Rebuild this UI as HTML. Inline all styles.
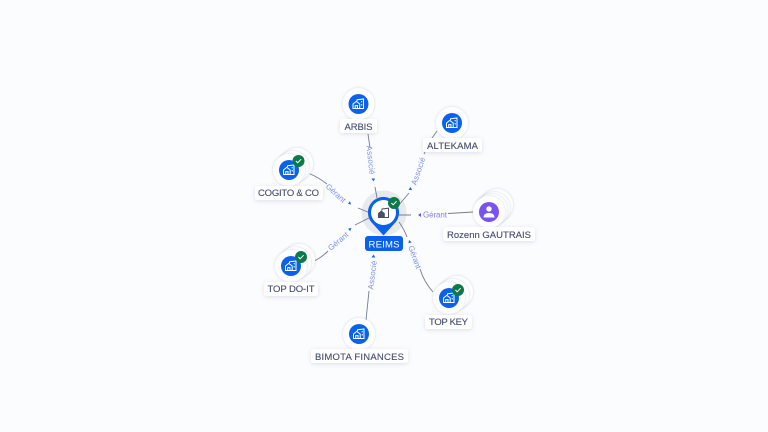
<!DOCTYPE html>
<html><head><meta charset="utf-8">
<style>
html,body{margin:0;padding:0;background:#fbfcfe;width:768px;height:432px;overflow:hidden}
svg{display:block}
text{font-family:"Liberation Sans",sans-serif}
.lb{font-size:9.5px;fill:#444b6e;text-anchor:middle;stroke:#444b6e;stroke-width:.12}
.e{font-size:8px;fill:#7f93e6;text-anchor:middle}
.ln{fill:none;stroke:#747b94;stroke-width:.9}
.ar{fill:#1a66e8}
</style></head><body>
<svg width="768" height="432" viewBox="0 0 768 432" xmlns="http://www.w3.org/2000/svg">
<defs>
<filter id="s" x="-30%" y="-50%" width="160%" height="220%"><feDropShadow dx="0" dy="1" stdDeviation="2" flood-color="#8a93b0" flood-opacity=".28"/></filter>
<filter id="c" x="-30%" y="-30%" width="160%" height="160%"><feDropShadow dx="0" dy="0" stdDeviation="1.2" flood-color="#8a93b0" flood-opacity=".4"/></filter>
<g id="ic" fill="none" stroke="#fff" stroke-width="1"><path d="M-5.5 0 L-2.2 -2.6 L1.2 0 V4.5 H-5.5 Z"/><path d="M-3.3 4.5 V1.6 H-1 V4.5"/><path d="M-1.5 -3 V-4.2 L5 -5 V4.5 H1.2"/><path d="M3.2 -3 V-1.6 M3.2 0 V1.5"/></g>
<g id="nd"><circle r="16" fill="#fff" filter="url(#c)"/><circle r="10" fill="#0a62ea"/><use href="#ic"/></g>
<g id="st"><circle cx="8" cy="-6" r="16" fill="#fff" filter="url(#c)"/><circle cx="4" cy="-3" r="16" fill="#fff" filter="url(#c)"/></g>
<g id="ok"><circle r="6" fill="#0b7a48"/><path d="M-2.6 0 L-.8 1.8 L2.6 -1.8" fill="none" stroke="#fff" stroke-width="1"/></g>
</defs>
<rect width="768" height="432" fill="#fbfcfe"/>

<circle cx="384" cy="213" r="22.5" fill="#e8e9ec"/>

<path class="ln" d="M368 134 L370 148 M375 187 L377 198"/>
<path class="ln" d="M437 131 L430 141 M425 152 L424 154 M409 193 L398 206"/>
<path class="ln" d="M308 173 Q318 177 327 184 M358 208 L369 212.5"/>
<path class="ln" d="M473 212 L448 213.5 M411 215 L398 215"/>
<path class="ln" d="M433 292 Q424 282 420 269 M399 222 Q404 229 407 237"/>
<path class="ln" d="M366 320 L369 291"/>
<path class="ln" d="M314 261 Q321 258 328 251 M355 225 L369 218"/>

<text class="e" transform="translate(371,160) rotate(84)" dy="3" textLength="29">Associé</text>
<text class="e" transform="translate(418,171) rotate(-71)" dy="3" textLength="29">Associé</text>
<text class="e" transform="translate(336,193) rotate(42)" dy="3" textLength="24">Gérant</text>
<text class="e" transform="translate(435,214.5)" dy="3" textLength="24" style="fill:#8c7de8">Gérant</text>
<text class="e" transform="translate(415,257) rotate(70)" dy="3" textLength="24">Gérant</text>
<text class="e" transform="translate(372,275) rotate(-83)" dy="3" textLength="29">Associé</text>
<text class="e" transform="translate(338,241) rotate(-40)" dy="3" textLength="24">Gérant</text>

<path class="ar" d="M373.5 181.5 l-2 -3 h3.6 z"/>
<path class="ar" d="M410.5 187 l-2 3 h3.6 z"/>
<path class="ar" d="M351 204.5 l-3 -.6 l2 -2.8 z"/>
<path d="M418 215 l3 -2 v4 z" fill="#6a55e0"/>
<path class="ar" d="M409 240 l-.5 3.4 l3.2 -1.2 z"/>
<path class="ar" d="M373.5 254.5 l-2 3 h3.8 z"/>
<path class="ar" d="M351.5 228 l-3.4 .6 l2 2.6 z"/>

<path d="M383.5 235.5 L373.5 224.5 A15.6 15.6 0 1 1 393.5 224.5 Z" fill="#0a62ea"/>
<circle cx="383.5" cy="212.5" r="12.5" fill="#fff"/>
<g transform="translate(383.5,213)" fill="none" stroke="#4a4f66" stroke-width="1"><path d="M-5 .5 L-2.2 -2 L.8 .5 V4.5 H-5 Z" fill="#4a4f66"/><path d="M-1.5 -2.5 V-4 L5 -4.8 V4.5 H1"/></g>
<use href="#ok" x="394" y="203"/>
<rect x="365" y="236" width="38" height="15" rx="3" fill="#0a62ea"/>
<text x="384" y="247.5" text-anchor="middle" font-size="9.5" fill="#fff" textLength="31">REIMS</text>

<use href="#nd" x="358.5" y="104"/>
<rect x="340" y="119" width="37" height="14" rx="2.5" fill="#fff" filter="url(#s)"/>
<text class="lb" x="358.5" y="130" textLength="28">ARBIS</text>

<use href="#nd" x="452" y="123"/>
<rect x="423" y="138" width="59" height="14" rx="2.5" fill="#fff" filter="url(#s)"/>
<text class="lb" x="452.5" y="149" textLength="51">ALTEKAMA</text>

<use href="#st" x="289" y="170"/><use href="#nd" x="289" y="170"/><use href="#ok" x="298.5" y="161"/>
<rect x="255" y="186" width="68" height="14" rx="2.5" fill="#fff" filter="url(#s)"/>
<text class="lb" x="288.5" y="196" textLength="61">COGITO &amp; CO</text>

<circle cx="497" cy="205" r="16" fill="#fff" filter="url(#c)"/><circle cx="494" cy="208" r="16" fill="#fff" filter="url(#c)"/><circle cx="491.5" cy="210" r="16" fill="#fff" filter="url(#c)"/><circle cx="489" cy="212" r="16" fill="#fff" filter="url(#c)"/><circle cx="489" cy="212" r="10" fill="#7a52ee"/>
<circle cx="489" cy="209" r="2.7" fill="#fff"/><path d="M483.5 217.5 Q483.5 213 489 213 Q494.5 213 494.5 217.5 Z" fill="#fff"/>
<rect x="443" y="227" width="92" height="14" rx="2.5" fill="#fff" filter="url(#s)"/>
<text class="lb" x="489" y="238" textLength="84">Rozenn GAUTRAIS</text>

<use href="#st" x="449" y="298"/><use href="#nd" x="449" y="298"/><use href="#ok" x="458" y="290"/>
<rect x="425" y="315" width="47" height="14" rx="2.5" fill="#fff" filter="url(#s)"/>
<text class="lb" x="448.5" y="325" textLength="39">TOP KEY</text>

<use href="#nd" x="359" y="334"/>
<rect x="311" y="349" width="97" height="14" rx="2.5" fill="#fff" filter="url(#s)"/>
<text class="lb" x="359.5" y="360" textLength="89">BIMOTA FINANCES</text>

<use href="#st" x="291" y="266"/><use href="#nd" x="291" y="266"/><use href="#ok" x="301" y="257"/>
<rect x="264" y="282" width="54" height="14" rx="2.5" fill="#fff" filter="url(#s)"/>
<text class="lb" x="291" y="292" textLength="47">TOP DO-IT</text>
</svg>
</body></html>
